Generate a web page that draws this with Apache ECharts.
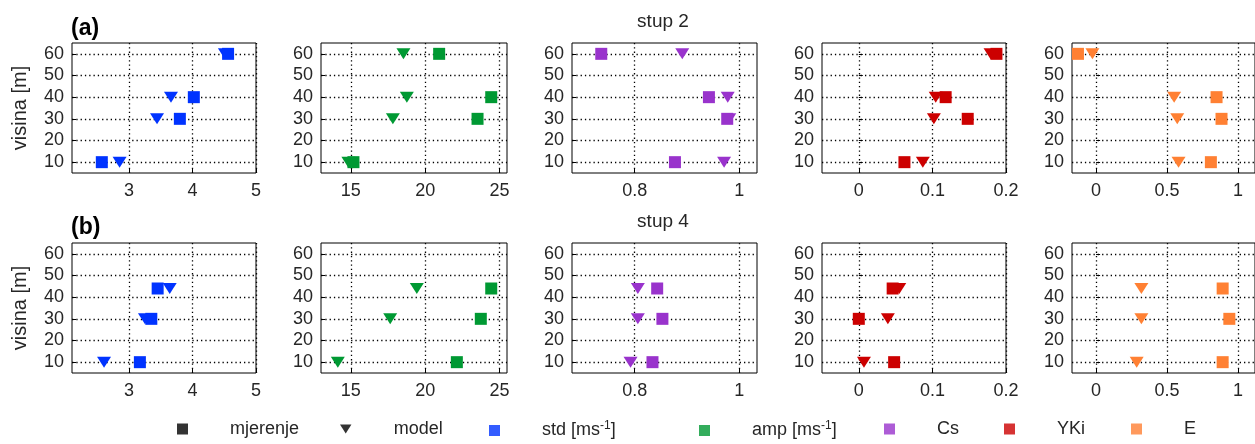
<!DOCTYPE html>
<html><head><meta charset="utf-8">
<script src="https://cdn.jsdelivr.net/npm/echarts@6.0.0/dist/echarts.min.js"></script>
<style>html,body{margin:0;padding:0;background:#fff}#c{width:1255px;height:444px}</style>
</head><body><div id="c"></div>
<script>
// heights (visina [m])
const heightsA = [10, 30, 40, 60];
const heightsB = [10, 30, 44];
const yTicks = [10, 20, 30, 40, 50, 60];
const colors = ['#0033ff', '#009933', '#9933cc', '#cc0000', '#ff8033'];
// row (a) stup 2 : mjerenje (measured) and model
const stdMeasA = [2.57, 3.80, 4.02, 4.56];
const stdModelA = [2.85, 3.44, 3.66, 4.51];
const ampMeasA = [15.18, 23.52, 24.44, 20.94];
const ampModelA = [14.84, 17.83, 18.77, 18.54];
const csMeasA = [0.877, 0.977, 0.942, 0.736];
const csModelA = [0.971, 0.981, 0.978, 0.891];
const ykiMeasA = [0.062, 0.148, 0.118, 0.187];
const ykiModelA = [0.087, 0.102, 0.1045, 0.179];
const eMeasA = [0.809, 0.884, 0.849, -0.128];
const eModelA = [0.581, 0.572, 0.55, -0.026];
// row (b) stup 4
const stdMeasB = [3.17, 3.35, 3.45];
const stdModelB = [2.605, 3.25, 3.64];
const ampMeasB = [22.13, 23.74, 24.44];
const ampModelB = [14.13, 17.65, 19.44];
const csMeasB = [0.834, 0.853, 0.843];
const csModelB = [0.792, 0.806, 0.806];
const ykiMeasB = [0.048, 0.0, 0.046];
const ykiModelB = [0.007, 0.0395, 0.055];
const eMeasB = [0.892, 0.939, 0.892];
const eModelB = [0.286, 0.319, 0.319];
// x tick labels and ranges per column
const xTicks = [[3, 4, 5], [15, 20, 25], [0.8, 1], [0, 0.1, 0.2], [0, 0.5, 1]];
const xRanges = [[2.1, 5], [13, 25.5], [0.68, 1.034], [-0.05, 0.2], [-0.17, 1.12]];
const legendNames = ['mjerenje', 'model', 'std [ms-1]', 'amp [ms-1]', 'Cs', 'YKi', 'E'];
const rowTitles = ['stup 2', 'stup 4'];
const rowLabels = ['(a)', '(b)'];

const FONT = "'Liberation Sans', Arial, sans-serif";
const TXT = '#262626';
const TRI = 'path://M0,0L14,0L7,11Z';

const rows = [
  {h: heightsA, meas: [stdMeasA, ampMeasA, csMeasA, ykiMeasA, eMeasA], model: [stdModelA, ampModelA, csModelA, ykiModelA, eModelA]},
  {h: heightsB, meas: [stdMeasB, ampMeasB, csMeasB, ykiMeasB, eMeasB], model: [stdModelB, ampModelB, csModelB, ykiModelB, eModelB]}
];

const lefts = [72, 321, 572, 822, 1072];
const widths = [184, 186, 185, 184, 186];
const tops = [43, 243];

const grid = [], xAxis = [], yAxis = [], series = [];
rows.forEach((row, r) => {
  for (let c = 0; c < 5; c++) {
    const gi = grid.length;
    grid.push({left: lefts[c], top: tops[r], width: widths[c], height: 130, show: true,
      borderColor: '#000', borderWidth: 1, backgroundColor: '#fff'});
    xAxis.push({type: 'value', gridIndex: gi, min: xRanges[c][0], max: xRanges[c][1],
      axisLine: {show: false},
      axisTick: {show: true, inside: true, length: 4, customValues: xTicks[c], lineStyle: {color: '#000'}},
      axisLabel: {customValues: xTicks[c], fontSize: 18, color: TXT, margin: 9, fontFamily: FONT},
      splitLine: {show: true, lineStyle: {color: '#000', type: [1.3, 3], width: 1.3}}});
    yAxis.push({type: 'value', gridIndex: gi, min: 5, max: 65,
      name: c === 0 ? 'visina [m]' : '', nameLocation: 'middle', nameGap: 42,
      nameTextStyle: {fontSize: 20, color: TXT, fontFamily: FONT},
      axisLine: {show: false},
      axisTick: {show: true, inside: true, length: 4, customValues: yTicks, lineStyle: {color: '#000'}},
      axisLabel: {customValues: yTicks, fontSize: 18, color: TXT, margin: 8, fontFamily: FONT},
      splitLine: {show: true, lineStyle: {color: '#000', type: [1.3, 3], width: 1.3}}});
    series.push({type: 'scatter', name: 'model ' + r + c, xAxisIndex: gi, yAxisIndex: gi,
      symbol: TRI, symbolSize: [14, 11], itemStyle: {color: colors[c], opacity: 1},
      data: row.h.map((h, i) => [row.model[c][i], h]), silent: true});
    series.push({type: 'scatter', name: 'mjerenje ' + r + c, xAxisIndex: gi, yAxisIndex: gi,
      symbol: 'rect', symbolSize: 12, itemStyle: {color: colors[c], opacity: 1},
      data: row.h.map((h, i) => [row.meas[c][i], h]), silent: true});
  }
});

// legend-only series
const legendColors = ['#000', '#000'].concat(colors);
legendNames.forEach((n, i) => {
  series.push({type: 'scatter', name: n, xAxisIndex: 0, yAxisIndex: 0, data: [],
    symbol: i === 1 ? TRI : 'rect', itemStyle: {color: legendColors[i]}});
});
const legendLefts = [177, 340, 489, 699, 884, 1004, 1131];
const legend = legendNames.map((n, i) => ({
  left: legendLefts[i], top: 420, orient: 'horizontal', padding: 0,
  data: [{name: n, icon: i === 1 ? TRI : 'rect'}],
  itemWidth: i === 1 ? 12 : 11, itemHeight: i === 1 ? 9 : 11, selectedMode: false,
  formatter: nm => nm.indexOf('ms-1') >= 0 ? nm.replace('ms-1]', 'ms{sup|-1}]') : nm,
  textStyle: {fontSize: 18, color: TXT, fontFamily: FONT, padding: [0, 0, 0, 37],
    rich: {sup: {fontSize: 12, color: TXT, fontFamily: FONT, padding: [0, 0, 9, 0]}}}
}));

const graphic = [];
rowTitles.forEach((t, r) => {
  graphic.push({type: 'text', x: 663, y: 22 + r * 200,
    style: {text: t, textAlign: 'center', textVerticalAlign: 'middle', fontSize: 19, fill: TXT, fontFamily: FONT}});
  graphic.push({type: 'text', x: 71, y: 29 + r * 199,
    style: {text: rowLabels[r], textAlign: 'left', textVerticalAlign: 'middle', fontSize: 23, fontWeight: 'bold', fill: '#000', fontFamily: FONT}});
});

const chart = echarts.init(document.getElementById('c'), null, {renderer: 'canvas'});
chart.setOption({animation: false, backgroundColor: '#fff', grid, xAxis, yAxis, series, legend, graphic});
</script></body></html>
